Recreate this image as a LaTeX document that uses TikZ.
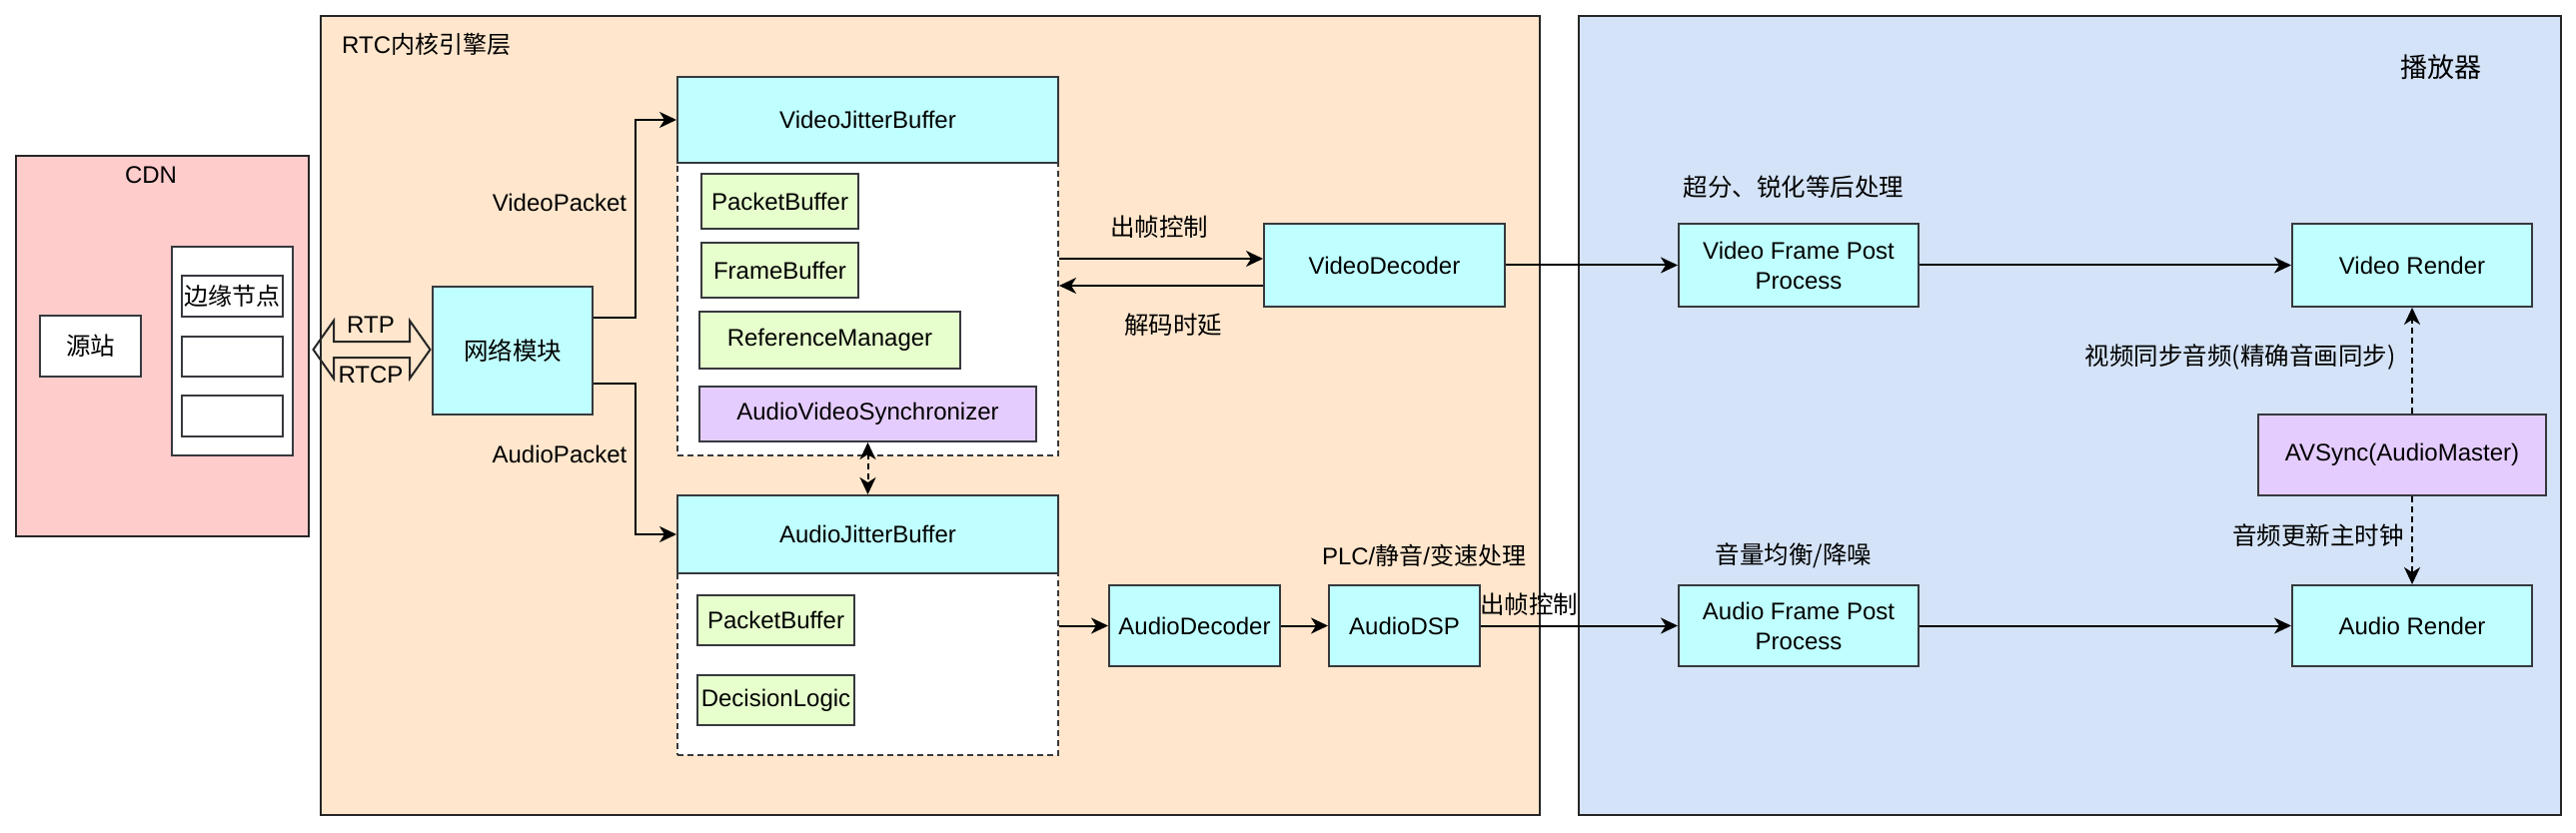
\documentclass[tikz,border=0pt]{standalone}
\usepackage{fontspec}
\setmainfont{Liberation Sans}
\newfontfamily\cjk{Noto Sans CJK SC}
\usetikzlibrary{arrows.meta,calc}
\definecolor{cdnfill}{HTML}{FFCCCC}
\definecolor{rtcfill}{HTML}{FFE6CC}
\definecolor{plfill}{HTML}{D4E3F7}
\definecolor{cyanfill}{HTML}{C0FFFF}
\definecolor{greenfill}{HTML}{E6FFCC}
\definecolor{purplefill}{HTML}{E5CCFF}
\definecolor{bordc}{HTML}{36393D}
\begin{document}
\begin{tikzpicture}[x=1pt,y=-1pt,
  font=\fontsize{24}{29}\selectfont,
  box/.style={draw=bordc, line width=2pt, inner sep=0pt, align=center},
  frame/.style={box, draw=black!85},
  cyanbox/.style={box, fill=cyanfill},
  greenbox/.style={box, fill=greenfill},
  purplebox/.style={box, fill=purplefill},
  whitebox/.style={box, fill=white},
  dashbox/.style={box, fill=white, dash pattern=on 6pt off 4pt},
  lbl/.style={inner sep=0pt, align=center},
  cjklbl/.style={lbl, font=\cjk\fontsize{24.5}{29}\selectfont},
  plcjk/.style={lbl, font=\cjk\fontsize{24.5}{29}\selectfont},
  arr/.style={line width=2pt, -{Stealth[length=17pt, width=16pt, inset=5pt]}},
  darr/.style={arr, dash pattern=on 6pt off 4pt},
  ddarr/.style={line width=2pt, dash pattern=on 6pt off 4pt, {Stealth[length=17pt, width=16pt, inset=5pt]}-{Stealth[length=17pt, width=16pt, inset=5pt]}}
]
\useasboundingbox[fill=white] (0,0) rectangle (2578,834);

% ---------- frames ----------
\node[frame, fill=cdnfill, minimum width=293pt, minimum height=381pt] (cdn) at (162.5,346.5) {};
\node[lbl] (cdnl) at (151,175) {CDN};
\node[frame, fill=rtcfill, minimum width=1220pt, minimum height=800pt] (rtc) at (931,416) {};
\node[lbl, anchor=west] (rtcl) at (342,44) {RTC{\cjk 内核引擎层}};
\node[frame, fill=plfill, minimum width=983pt, minimum height=800pt] (pl) at (2071.5,416) {};
\node[lbl, font=\cjk\fontsize{27}{32}\selectfont] (pll) at (2443,67) {播放器};

% ---------- CDN ----------
\node[whitebox, minimum width=101pt, minimum height=61pt, font=\cjk\fontsize{24.5}{29}\selectfont] (src) at (90.5,346.5) {源站};
\node[whitebox, minimum width=121pt, minimum height=209pt] (edgec) at (232.5,351.5) {};
\node[whitebox, minimum width=101pt, minimum height=41pt, font=\cjk\fontsize{24}{29}\selectfont] (edge1) at (232.5,296.5) {边缘节点};
\node[whitebox, minimum width=101pt, minimum height=40pt] (edge2) at (232.5,357) {};
\node[whitebox, minimum width=101pt, minimum height=41pt] (edge3) at (232.5,416.5) {};

% RTP / RTCP double arrow shape
\draw[line width=2pt, draw=black!85, line join=miter] (313.5,350) -- (334,321) -- (334,342) -- (410,342) -- (410,321) -- (430.5,350) -- (410,379) -- (410,358) -- (334,358) -- (334,379) -- cycle;
\node[lbl] (rtp) at (371,325) {RTP};
\node[lbl] (rtcp) at (371,375) {RTCP};

% ---------- RTC engine ----------
\node[cyanbox, minimum width=160pt, minimum height=128pt, font=\cjk\fontsize{24.5}{29}\selectfont] (net) at (513,351) {网络模块};

\node[dashbox, minimum width=381pt, minimum height=379pt] (vjb) at (868.5,266.5) {};
\node[cyanbox, minimum width=381pt, minimum height=86pt] (vjbh) at (868.5,120) {VideoJitterBuffer};
\node[greenbox, minimum width=157pt, minimum height=55pt] (vpb) at (780.5,201.5) {PacketBuffer};
\node[greenbox, minimum width=157pt, minimum height=55pt] (vfb) at (780.5,270.5) {FrameBuffer};
\node[greenbox, minimum width=261pt, minimum height=57pt] (vrm) at (830.5,340.5) {ReferenceManager};
\node[purplebox, minimum width=337pt, minimum height=55pt] (avs) at (868.5,414.5) {AudioVideoSynchronizer};

\node[dashbox, minimum width=381pt, minimum height=260pt] (ajb) at (868.5,626) {};
\node[cyanbox, minimum width=381pt, minimum height=78pt] (ajbh) at (868.5,535) {AudioJitterBuffer};
\node[greenbox, minimum width=157pt, minimum height=50pt] (apb) at (776.5,621) {PacketBuffer};
\node[greenbox, minimum width=157pt, minimum height=50pt] (adl) at (776.5,701) {DecisionLogic};

\node[cyanbox, minimum width=241pt, minimum height=83pt] (vd) at (1385.5,265.5) {VideoDecoder};
\node[cyanbox, minimum width=171pt, minimum height=81pt] (adec) at (1195.5,626.5) {AudioDecoder};
\node[cyanbox, minimum width=151pt, minimum height=81pt] (adsp) at (1405.5,626.5) {AudioDSP};

% ---------- player ----------
\node[cyanbox, minimum width=240pt, minimum height=83pt] (vfpp) at (1800,265.5) {Video Frame Post\\[1pt]Process};
\node[cyanbox, minimum width=240pt, minimum height=83pt] (vr) at (2414,265.5) {Video Render};
\node[purplebox, minimum width=288pt, minimum height=81pt] (avm) at (2404,455.5) {AVSync(AudioMaster)};
\node[cyanbox, minimum width=240pt, minimum height=81pt] (afpp) at (1800,626.5) {Audio Frame Post\\[1pt]Process};
\node[cyanbox, minimum width=240pt, minimum height=81pt] (ar) at (2414,626.5) {Audio Render};

% ---------- connectors ----------
\draw[arr] ($(net.north east)!0.25!(net.south east)$) -- ++(42,0) |- (vjbh.west);
\draw[arr] ($(net.north east)!0.75!(net.south east)$) -- ++(42,0) |- (ajbh.west);
\draw[ddarr] (avs.south) -- (ajbh.north);
\draw[arr] (vjb.east |- 0,259) -- (vd.west |- 0,259);
\draw[arr] (vd.west |- 0,286) -- (vjb.east |- 0,286);
\draw[arr] (vd.east) -- (vfpp.west);
\draw[arr] (vfpp.east) -- (vr.west);
\draw[arr] (ajb.east |- adec.west) -- (adec.west);
\draw[arr] (adec.east) -- (adsp.west);
\draw[arr] (adsp.east) -- (afpp.west);
\draw[arr] (afpp.east) -- (ar.west);
\draw[darr] (vr.south |- avm.north) -- (vr.south);
\draw[darr] (ar.north |- avm.south) -- (ar.north);

% ---------- labels ----------
\node[lbl] (vpl) at (560,203) {VideoPacket};
\node[lbl] (apl) at (560,455) {AudioPacket};
\node[cjklbl] (ctl1) at (1160,227) {出帧控制};
\node[cjklbl] (dly) at (1174,325) {解码时延};
\node[lbl] (plc) at (1425,556) {PLC/{\cjk 静音}/{\cjk 变速处理}};
\node[cjklbl] (ctl2) at (1530,605) {出帧控制};
\node[plcjk] (vpp) at (1795,187) {超分、锐化等后处理};
\node[plcjk] (apl2) at (1795,556) {音量均衡/降噪};
\node[plcjk] (vsync) at (2242,358) {视频同步音频(精确音画同步)};
\node[plcjk] (aclk) at (2320,536) {音频更新主时钟};
\end{tikzpicture}
\end{document}
